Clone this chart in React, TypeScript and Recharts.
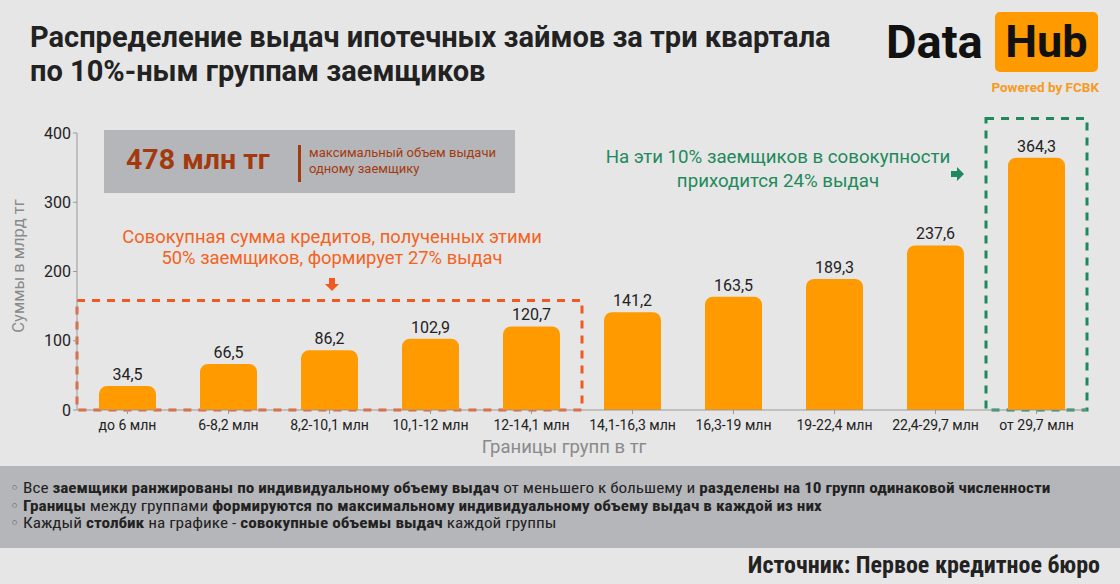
import React from "react";
import {
  BarChart,
  Bar,
  XAxis,
  YAxis,
  LabelList,
  ReferenceArea,
} from "recharts";

const categories = [
  "до 6 млн",
  "6-8,2 млн",
  "8,2-10,1 млн",
  "10,1-12 млн",
  "12-14,1 млн",
  "14,1-16,3 млн",
  "16,3-19  млн",
  "19-22,4 млн",
  "22,4-29,7 млн",
  "от 29,7 млн",
];

const amounts = [34.5, 66.5, 86.2, 102.9, 120.7, 141.2, 163.5, 189.3, 237.6, 364.3];

const yTicks = [0, 100, 200, 300, 400];

const notes = [
  [
    { t: "Все ", b: false },
    { t: "заемщики ранжированы по индивидуальному объему выдач", b: true },
    { t: " от меньшего к большему и ", b: false },
    { t: "разделены на 10 групп одинаковой численности", b: true },
  ],
  [
    { t: "Границы", b: true },
    { t: " между группами ", b: false },
    { t: "формируются по максимальному индивидуальному объему выдач в каждой из них", b: true },
  ],
  [
    { t: "Каждый ", b: false },
    { t: "столбик", b: true },
    { t: " на графике - ", b: false },
    { t: "совокупные объемы выдач", b: true },
    { t: " каждой группы", b: false },
  ],
];

const data = categories.map((name, i) => ({ name, value: amounts[i] }));

const FONT = "Roboto, 'Noto Sans', sans-serif";
const NARROW = "'Roboto Condensed', 'DejaVu Sans Condensed', Roboto, sans-serif";

const fmt = (v: any) => String(v).replace(".", ",");

export default function App() {
  return (
    <div
      style={{
        position: "fixed",
        left: 0,
        top: 0,
        width: 1120,
        height: 584,
        background: "#e6e6e6",
        fontFamily: FONT,
        overflow: "hidden",
      }}
    >
      <div
        style={{
          position: "absolute",
          left: 30,
          top: 20,
          fontSize: 29,
          fontWeight: 700,
          lineHeight: "34px",
          color: "#222",
          whiteSpace: "nowrap",
        }}
      >
        Распределение выдач ипотечных займов за три квартала
        <br />
        по 10%-ным группам заемщиков
      </div>

      {/* logo */}
      <div
        style={{
          position: "absolute",
          left: 886,
          top: 14,
          fontSize: 47,
          fontWeight: 700,
          color: "#111",
          lineHeight: "56px",
        }}
      >
        Data
      </div>
      <div
        style={{
          position: "absolute",
          left: 995,
          top: 12,
          width: 103,
          height: 60,
          background: "#ff9a00",
          borderRadius: 5,
          fontSize: 45,
          fontWeight: 700,
          color: "#111",
          lineHeight: "60px",
          textAlign: "center",
        }}
      >
        Hub
      </div>
      <div
        style={{
          position: "absolute",
          left: 980,
          top: 79,
          width: 119,
          textAlign: "right",
          fontSize: 13.5,
          fontWeight: 700,
          color: "#f79a1e",
          whiteSpace: "nowrap",
        }}
      >
        Powered by FCBK
      </div>

      <div style={{ position: "absolute", left: 0, top: 0 }}>
        <BarChart
          width={1120}
          height={584}
          data={data}
          margin={{ top: 133, right: 33, bottom: 144, left: 37 }}
        >
          <XAxis
            dataKey="name"
            height={30}
            tick={{ fill: "#222", fontSize: 14, fontFamily: FONT }}
            tickLine={{ stroke: "#999" }}
            axisLine={{ stroke: "#999" }}
            tickSize={4}
            tickMargin={6}
            interval={0}
          />
          <YAxis
            width={40}
            domain={[0, 400]}
            ticks={yTicks}
            tick={{ fill: "#222", fontSize: 16, fontFamily: FONT }}
            tickLine={{ stroke: "#999" }}
            axisLine={{ stroke: "#999" }}
            tickSize={4}
          />
          <Bar
            dataKey="value"
            fill="#ff9a00"
            barSize={57}
            radius={[8, 8, 0, 0]}
            isAnimationActive={false}
          >
            <LabelList
              dataKey="value"
              position="top"
              offset={6}
              formatter={fmt}
              style={{ fill: "#222", fontSize: 16, fontFamily: FONT }}
            />
          </Bar>
          <ReferenceArea
            x1={categories[0]}
            x2={categories[4]}
            y1={0}
            y2={158}
            fill="none"
            stroke="#f05a22"
            strokeWidth={3}
            strokeDasharray="8 7"
            ifOverflow="visible"
          />
          <ReferenceArea
            x1={categories[9]}
            x2={categories[9]}
            y1={0}
            y2={421}
            fill="none"
            stroke="#1e8a5c"
            strokeWidth={3}
            strokeDasharray="8 7"
            ifOverflow="visible"
          />
        </BarChart>
      </div>

      {/* axis titles */}
      <div
        style={{
          position: "absolute",
          left: 18,
          top: 266,
          transform: "translate(-50%, -50%) rotate(-90deg)",
          fontSize: 16.5,
          color: "#8a8a8a",
          whiteSpace: "nowrap",
        }}
      >
        Суммы в млрд тг
      </div>
      <div
        style={{
          position: "absolute",
          left: 564,
          top: 436,
          transform: "translateX(-50%)",
          fontSize: 18.5,
          color: "#8a8a8a",
          whiteSpace: "nowrap",
        }}
      >
        Границы групп в тг
      </div>

      {/* max box */}
      <div
        style={{
          position: "absolute",
          left: 104,
          top: 130,
          width: 411,
          height: 63,
          background: "#b5b6b9",
        }}
      >
        <div
          style={{
            position: "absolute",
            left: 22,
            top: 13,
            fontSize: 28.5,
            fontWeight: 700,
            color: "#a33a0f",
            whiteSpace: "nowrap",
          }}
        >
          478 млн тг
        </div>
        <div
          style={{
            position: "absolute",
            left: 194,
            top: 15,
            width: 3,
            height: 37,
            background: "#a33a0f",
          }}
        />
        <div
          style={{
            position: "absolute",
            left: 205,
            top: 15,
            fontSize: 13,
            lineHeight: "16px",
            color: "#a33a0f",
            whiteSpace: "nowrap",
          }}
        >
          максимальный объем выдачи
          <br />
          одному заемщику
        </div>
      </div>

      {/* orange note */}
      <div
        style={{
          position: "absolute",
          left: 332,
          top: 226,
          transform: "translateX(-50%)",
          fontSize: 18.4,
          lineHeight: "21px",
          color: "#f26322",
          textAlign: "center",
          whiteSpace: "nowrap",
        }}
      >
        Совокупная сумма кредитов, полученных этими
        <br />
        50% заемщиков, формирует 27% выдач
      </div>
      <svg style={{ position: "absolute", left: 324, top: 278 }} width={16} height={14}>
        <rect x={5} y={0} width={6} height={6} fill="#f05a22" />
        <polygon points="1,6 15,6 8,13" fill="#f05a22" />
      </svg>

      {/* green note */}
      <div
        style={{
          position: "absolute",
          left: 778,
          top: 145,
          transform: "translateX(-50%)",
          fontSize: 18.7,
          lineHeight: "24px",
          color: "#1e8a5c",
          textAlign: "center",
          whiteSpace: "nowrap",
        }}
      >
        На эти 10% заемщиков в совокупности
        <br />
        приходится 24% выдач
      </div>
      <svg style={{ position: "absolute", left: 951, top: 166 }} width={14} height={16}>
        <rect x={0} y={5} width={6} height={6} fill="#1e8a5c" />
        <polygon points="6,1 6,15 13,8" fill="#1e8a5c" />
      </svg>

      {/* notes band */}
      <div
        style={{
          position: "absolute",
          left: 0,
          top: 466,
          width: 1120,
          height: 82,
          background: "#b5b6b9",
        }}
      >
        <div
          style={{
            position: "absolute",
            left: 10,
            top: 14,
            fontSize: 15,
            lineHeight: "17.5px",
            color: "#222",
            fontFamily: NARROW,
            transform: "scaleX(1.147)",
            transformOrigin: "0 0",
          }}
        >
          {notes.map((line, i) => (
            <div key={i} style={{ whiteSpace: "nowrap" }}>
              <span style={{ color: "#555" }}>◦ </span>
              {line.map((s, j) => (
                <span key={j} style={{ fontWeight: s.b ? 700 : 400 }}>
                  {s.t}
                </span>
              ))}
            </div>
          ))}
        </div>
      </div>

      <div
        style={{
          position: "absolute",
          right: 20,
          top: 551,
          fontSize: 24,
          fontWeight: 700,
          color: "#222",
          fontFamily: NARROW,
          whiteSpace: "nowrap",
        }}
      >
        Источник: Первое кредитное бюро
      </div>
    </div>
  );
}
